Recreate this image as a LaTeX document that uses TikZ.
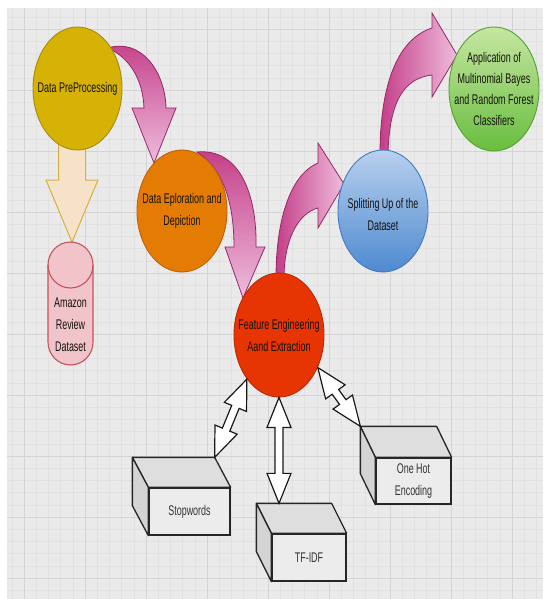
\documentclass[tikz,border=0pt]{standalone}
\usepackage{fontspec}
\setmainfont{Liberation Sans}[FakeStretch=0.64]
\usetikzlibrary{shapes.geometric,calc}
\definecolor{bggray}{RGB}{234,234,234}
\definecolor{gridminor}{RGB}{225,225,225}
\definecolor{gridmajor}{RGB}{212,212,212}
\definecolor{yel}{RGB}{214,178,4}
\definecolor{yeld}{RGB}{170,138,10}
\definecolor{ora}{RGB}{228,124,4}
\definecolor{orad}{RGB}{190,96,10}
\definecolor{redc}{RGB}{230,52,2}
\definecolor{redd}{RGB}{185,40,10}
\definecolor{blul}{RGB}{184,208,238}
\definecolor{blud}{RGB}{78,138,208}
\definecolor{bluo}{RGB}{70,120,190}
\definecolor{grnl}{RGB}{198,230,162}
\definecolor{grnd}{RGB}{104,190,62}
\definecolor{grno}{RGB}{84,160,50}
\definecolor{pkd}{RGB}{196,62,136}
\definecolor{pkl}{RGB}{238,188,220}
\definecolor{pko}{RGB}{150,40,100}
\definecolor{beigef}{RGB}{245,226,200}
\definecolor{beiged}{RGB}{214,176,62}
\definecolor{cylf}{RGB}{240,196,200}
\definecolor{cyld}{RGB}{198,82,92}
\definecolor{txt}{RGB}{22,18,14}
\definecolor{boxfront}{RGB}{236,236,236}
\definecolor{boxtop}{RGB}{222,222,222}
\definecolor{boxside}{RGB}{212,212,212}
\def\ahl{30pt}
\def\ahw{12pt}
\def\asw{4pt}
\newcommand\hollowdbl[2]{%
  \draw[hollow] (#1)
  -- ($ ($(#1)!\ahl!(#2)$)!\ahw!90:(#2) $)
  -- ($ ($(#1)!\ahl!(#2)$)!\asw!90:(#2) $)
  -- ($ ($(#2)!\ahl!(#1)$)!\asw!-90:(#1) $)
  -- ($ ($(#2)!\ahl!(#1)$)!\ahw!-90:(#1) $)
  -- (#2)
  -- ($ ($(#2)!\ahl!(#1)$)!\ahw!90:(#1) $)
  -- ($ ($(#2)!\ahl!(#1)$)!\asw!90:(#1) $)
  -- ($ ($(#1)!\ahl!(#2)$)!\asw!-90:(#2) $)
  -- ($ ($(#1)!\ahl!(#2)$)!\ahw!-90:(#2) $)
  -- cycle;}
\begin{document}
\begin{tikzpicture}[x=1pt,y=-1pt,
  minorl/.style={gridminor,line width=0.5pt},
  majorl/.style={gridmajor,line width=0.9pt},
  bub/.style={ellipse,inner sep=0pt,line width=0.9pt},
  lbl/.style={font=\fontsize{14}{22}\selectfont,align=center,text=txt,inner sep=0pt},
  pinkarr/.style={draw=pko,line width=0.8pt},
  beigearr/.style={fill=beigef,draw=beiged,line width=1pt},
  cyl/.style={fill=cylf,draw=cyld,line width=1.1pt},
  frontbox/.style={rectangle,fill=boxfront,draw=black!85,line width=1.3pt,font=\fontsize{14}{22}\selectfont,align=center,text=black!80,inner sep=0pt},
  topface/.style={fill=boxtop,draw=black!85,line width=1.3pt,line join=round},
  sideface/.style={fill=boxside,draw=black!85,line width=1.3pt,line join=round},
  hollow/.style={fill=white,draw=black!90,line width=1.2pt,line join=miter}]
\useasboundingbox (0,0) rectangle (543,599);
\fill[white] (0,0) rectangle (543,599);
\fill[bggray] (7,8) rectangle (543,599);
\begin{scope}
\clip (7,8) rectangle (543,599);
\foreach \j in {-1,...,43} \draw[minorl] ({24+12.2*\j},8) -- ({24+12.2*\j},599);
\foreach \j in {-1,...,47} \draw[minorl] (7,{29+12.2*\j}) -- (543,{29+12.2*\j});
\foreach \k in {0,...,8} \draw[majorl] ({24+61*\k},8) -- ({24+61*\k},599);
\foreach \k in {0,...,9} \draw[majorl] (7,{29+61*\k}) -- (543,{29+61*\k});
\end{scope}

% curved block arrows (behind the ellipses)
\draw[pinkarr,top color=pkd,bottom color=pkl]
  (108,48) .. controls (140,38) and (165,70) .. (166,108)
  -- (176,108) -- (154,163) -- (132,108) -- (144,108)
  .. controls (143,80) and (130,58) .. (108,48) -- cycle;
\draw[pinkarr,top color=pkd,bottom color=pkl]
  (197,152) .. controls (240,148) and (257,195) .. (256,247)
  -- (265,247) -- (243,298) -- (225,247) -- (234,247)
  .. controls (234,200) and (222,168) .. (197,152) -- cycle;
\draw[pinkarr,left color=pkd,right color=pkl]
  (276,278) .. controls (276,220) and (290,175) .. (318,163)
  -- (318,143) -- (344,184) -- (318,228) -- (318,208)
  .. controls (298,213) and (284,240) .. (284,278) -- cycle;
\draw[pinkarr,left color=pkd,right color=pkl]
  (380,155) .. controls (380,90) and (395,40) .. (432,28)
  -- (432,13) -- (457,55) -- (432,97) -- (432,75)
  .. controls (405,78) and (389,100) .. (388,155) -- cycle;
% beige arrow
\draw[beigearr] (58.5,140) -- (85.5,140) -- (85.5,180) -- (98,180) -- (72,242) -- (46,180) -- (58.5,180) -- cycle;

% process ellipses
\node[bub,fill=yel,draw=yeld,minimum width=89pt,minimum height=123pt] (dp) at (77.5,88.5) {};
\node[bub,fill=ora,draw=orad,minimum width=90pt,minimum height=122pt] (de) at (182,211) {};
\node[bub,fill=redc,draw=redd,minimum width=90pt,minimum height=124pt] (fe) at (279,335) {};
\node[bub,top color=blul,bottom color=blud,draw=bluo,minimum width=90pt,minimum height=122pt] (su) at (383,211) {};
\node[bub,top color=grnl,bottom color=grnd,draw=grno,minimum width=90pt,minimum height=124pt] (ap) at (494,89) {};

\node[lbl] (dpt) at (dp.center) {Data PreProcessing};
\node[lbl] (det) at (de.center) {Data Eploration and\\Depiction};
\node[lbl] (fet) at (fe.center) {Feature Engineering\\Aand Extraction};
\node[lbl] (sut) at ($(su.center)+(0,3)$) {Splitting Up of the\\Dataset};
\node[lbl,font=\fontsize{14}{21}\selectfont] (apt) at (ap.center) {Application of\\Multinomial Bayes\\and Random Forest\\Classifiers};

% cylinder
\draw[cyl] (48,265) -- (48,342) arc[start angle=180,end angle=360,x radius=22.5pt,y radius=23pt]
  -- (93,265) arc[start angle=0,end angle=180,x radius=22.5pt,y radius=23pt] -- cycle;
\draw[cyl,fill=none] (48,265) arc[start angle=180,end angle=360,x radius=22.5pt,y radius=23pt];
\node[lbl] (amz) at (70.5,325) {Amazon\\Review\\Dataset};

% 3D boxes
\node[frontbox,minimum width=81pt,minimum height=47pt] (sw) at (189.5,511.5) {Stopwords};
\draw[topface] (sw.north west) -- ($(sw.north west)+(-16,-30)$) -- ($(sw.north east)+(-16,-30)$) -- (sw.north east) -- cycle;
\draw[sideface] (sw.north west) -- ($(sw.north west)+(-16,-30)$) -- ($(sw.south west)+(-16,-30)$) -- (sw.south west) -- cycle;
\coordinate (swc) at ($(sw.north east)+(-16,-30)$);

\node[frontbox,minimum width=74pt,minimum height=47pt] (tf) at (309,557.5) {TF-IDF};
\draw[topface] (tf.north west) -- ($(tf.north west)+(-15,-30)$) -- ($(tf.north east)+(-15,-30)$) -- (tf.north east) -- cycle;
\draw[sideface] (tf.north west) -- ($(tf.north west)+(-15,-30)$) -- ($(tf.south west)+(-15,-30)$) -- (tf.south west) -- cycle;
\coordinate (tfc) at ($(tf.north)+(-30,-30)$);

\node[frontbox,minimum width=75pt,minimum height=46pt] (oh) at (413.5,481) {One Hot\\Encoding};
\draw[topface] (oh.north west) -- ($(oh.north west)+(-15,-31)$) -- ($(oh.north east)+(-15,-31)$) -- (oh.north east) -- cycle;
\draw[sideface] (oh.north west) -- ($(oh.north west)+(-15,-31)$) -- ($(oh.south west)+(-15,-31)$) -- (oh.south west) -- cycle;
\coordinate (ohc) at ($(oh.north west)+(-15,-31)$);

% hollow double arrows
\hollowdbl{swc}{fe.south west}
\hollowdbl{tfc}{fe.south}
\hollowdbl{ohc}{fe.-40}
\end{tikzpicture}
\end{document}
